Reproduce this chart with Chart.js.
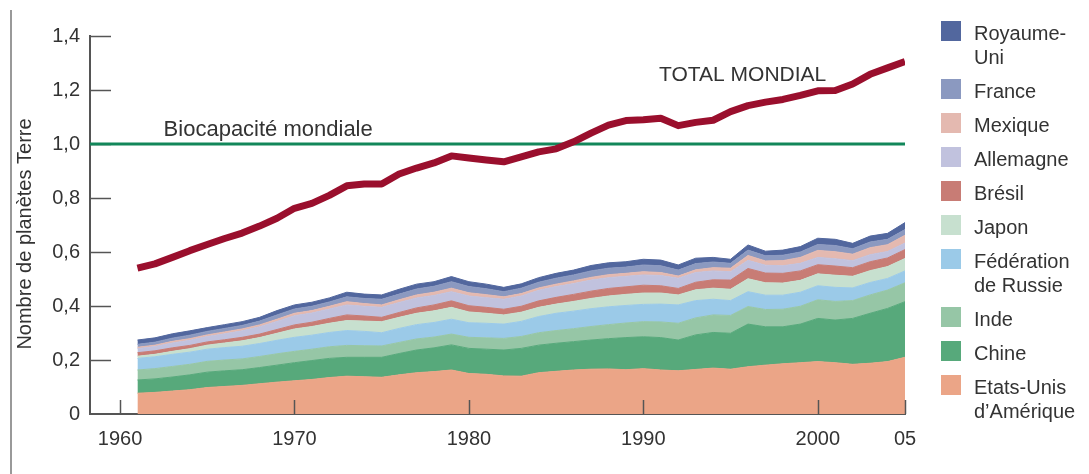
<!DOCTYPE html>
<html lang="fr">
<head>
<meta charset="utf-8">
<title>Empreinte écologique mondiale</title>
<script src="https://cdn.jsdelivr.net/npm/chart.js@4.4.1/dist/chart.umd.min.js"></script>
<style>
    html, body { margin: 0; padding: 0; background: #fff; }
    #wrap { position: relative; width: 1089px; height: 474px; font-family: "Liberation Sans", Arial, sans-serif; color: #333; }
    #chart { position: absolute; left: 0; top: 0; }
    #legend { position: absolute; left: 941px; top: 21px; }
    .item { display: flex; align-items: flex-start; margin-bottom: 10px; }
    .sw { width: 20px; height: 20px; margin-right: 13px; flex: none; }
    .lbl { font-size: 20px; line-height: 24px; white-space: pre-line; }
</style>
</head>
<body>
<div id="wrap">
    <canvas id="chart" width="1089" height="474"></canvas>
    <div id="legend"></div>
</div>
<script>
const annees = [1961, 1962, 1963, 1964, 1965, 1966, 1967, 1968, 1969, 1970,
    1971, 1972, 1973, 1974, 1975, 1976, 1977, 1978, 1979, 1980,
    1981, 1982, 1983, 1984, 1985, 1986, 1987, 1988, 1989, 1990,
    1991, 1992, 1993, 1994, 1995, 1996, 1997, 1998, 1999, 2000,
    2001, 2002, 2003, 2004, 2005];

const totalMondial = [0.540, 0.556, 0.580, 0.605, 0.628, 0.650, 0.670, 0.696, 0.725, 0.762,
    0.780, 0.810, 0.845, 0.852, 0.852, 0.889, 0.911, 0.930, 0.956, 0.948,
    0.941, 0.934, 0.952, 0.971, 0.982, 1.008, 1.040, 1.070, 1.087, 1.090,
    1.095, 1.068, 1.080, 1.088, 1.120, 1.142, 1.155, 1.165, 1.180, 1.197,
    1.198, 1.222, 1.258, 1.282, 1.305];

const biocapacite = 1.0;

// empreinte par pays, en nombre de planètes
const etatsUnis = [.077, .080, .085, .090, .098, .102, .106, .112, .118, .123,
    .128, .135, .140, .138, .136, .145, .153, .157, .163, .150,
    .147, .141, .140, .153, .158, .163, .166, .167, .164, .168,
    .163, .160, .165, .170, .166, .175, .181, .186, .190, .194,
    .190, .184, .188, .194, .210];
const chine = [.049, .050, .052, .055, .057, .058, .058, .060, .063, .067,
    .070, .071, .070, .072, .074, .079, .084, .088, .093, .093,
    .093, .096, .103, .102, .104, .105, .108, .112, .119, .118,
    .120, .114, .128, .132, .133, .158, .142, .137, .143, .160,
    .158, .170, .185, .197, .206];
const inde = [.037, .038, .039, .039, .040, .040, .040, .041, .042, .042,
    .042, .043, .044, .043, .042, .041, .041, .040, .040, .041,
    .042, .043, .044, .046, .047, .048, .050, .052, .054, .056,
    .058, .062, .063, .065, .066, .065, .064, .065, .066, .069,
    .069, .066, .068, .068, .070];
const russie = [.043, .044, .045, .045, .045, .046, .047, .048, .050, .052,
    .052, .053, .055, .053, .049, .052, .053, .054, .055, .054,
    .054, .053, .056, .060, .064, .065, .066, .066, .065, .064,
    .066, .068, .064, .058, .055, .055, .053, .052, .052, .052,
    .052, .047, .046, .043, .044];
const japon = [.008, .009, .011, .013, .015, .017, .020, .022, .026, .031,
    .032, .034, .037, .038, .041, .041, .042, .043, .044, .040,
    .037, .034, .034, .034, .034, .036, .038, .040, .041, .042,
    .041, .037, .040, .041, .042, .048, .046, .045, .044, .044,
    .045, .043, .044, .044, .046];
const bresil = [.013, .013, .013, .012, .012, .012, .013, .013, .014, .015,
    .016, .018, .021, .019, .016, .018, .020, .022, .024, .023,
    .022, .021, .022, .024, .025, .026, .027, .028, .028, .029,
    .027, .024, .028, .031, .034, .038, .036, .036, .035, .034,
    .034, .032, .033, .032, .033];
const allemagne = [.015, .016, .018, .019, .020, .022, .024, .027, .030, .034,
    .034, .035, .037, .036, .037, .037, .037, .035, .034, .036,
    .036, .037, .038, .039, .040, .040, .041, .040, .039, .038,
    .038, .038, .036, .033, .031, .030, .029, .028, .028, .027,
    .027, .026, .026, .024, .024];
const mexique = [.005, .005, .006, .006, .006, .007, .007, .007, .008, .009,
    .009, .010, .012, .010, .009, .010, .011, .012, .013, .012,
    .011, .009, .009, .009, .009, .010, .010, .011, .011, .012,
    .011, .008, .010, .012, .013, .018, .016, .019, .022, .026,
    .026, .024, .026, .025, .029];
const france = [.011, .011, .012, .013, .013, .013, .013, .014, .016, .016,
    .016, .016, .018, .019, .021, .021, .022, .022, .024, .023,
    .022, .019, .020, .021, .022, .022, .024, .024, .023, .025,
    .025, .022, .023, .021, .018, .020, .019, .020, .020, .022,
    .023, .020, .021, .020, .021];
const royaumeUni = [.016, .016, .016, .016, .014, .014, .014, .014, .016, .015,
    .015, .015, .017, .016, .016, .018, .018, .017, .019, .018,
    .017, .016, .016, .017, .018, .018, .020, .020, .020, .021,
    .021, .019, .020, .017, .015, .019, .017, .019, .020, .023,
    .023, .020, .022, .022, .026];

// du bas vers le haut de la pile
const pays = ["Etats-Unis\nd’Amérique", "Chine", "Inde", "Fédération\nde Russie", "Japon",
    "Brésil", "Allemagne", "Mexique", "France", "Royaume-\nUni"];
const valeursPays = [etatsUnis, chine, inde, russie, japon, bresil, allemagne, mexique, france, royaumeUni];
const couleurs = ["#eba587", "#57a97b", "#96c6a6", "#9bcae8", "#c7e0cf",
    "#c87c75", "#c1c2de", "#e4b9b0", "#8b99c0", "#52679e"];

const ticksX = [1960, 1970, 1980, 1990, 2000, 2005];
const titreY = "Nombre de planètes Terre";
const police = "'Liberation Sans', Arial, sans-serif";
Chart.defaults.font.family = police;
Chart.defaults.color = "#333";

const datasets = [{
    label: "TOTAL MONDIAL",
    data: totalMondial,
    stack: "total",
    borderColor: "#9a0f2d",
    borderWidth: 7,
    borderJoinStyle: "round",
    pointRadius: 0,
    fill: false,
    tension: 0
}];
pays.forEach((nom, i) => {
    datasets.push({
        label: nom,
        data: valeursPays[i],
        stack: "pays",
        backgroundColor: couleurs[i],
        borderColor: couleurs[i],
        borderWidth: 1,
        pointRadius: 0,
        fill: i === 0 ? "origin" : "-1",
        tension: 0
    });
});

const decor = {
    id: "decor",
    beforeDatasetsDraw(chart) {
        const { ctx, chartArea, scales: { x, y } } = chart;
        ctx.save();
        // petites graduations vers l'intérieur de l'axe Y
        ctx.strokeStyle = "#555";
        ctx.lineWidth = 1.5;
        y.ticks.forEach(t => {
            if (t.value === 0) return;
            const py = Math.round(y.getPixelForValue(t.value)) + 0.5;
            ctx.beginPath();
            ctx.moveTo(chartArea.left, py);
            ctx.lineTo(chartArea.left + 21, py);
            ctx.stroke();
        });
        // ligne de biocapacité
        const by = y.getPixelForValue(biocapacite);
        ctx.strokeStyle = "#12875a";
        ctx.lineWidth = 3;
        ctx.beginPath();
        ctx.moveTo(chartArea.left, by);
        ctx.lineTo(chartArea.right, by);
        ctx.stroke();
        ctx.font = "22px " + police;
        ctx.fillStyle = "#333";
        ctx.textBaseline = "alphabetic";
        ctx.fillText("Biocapacité mondiale", x.getPixelForValue(1962.5), by - 8);
        ctx.font = "21px " + police;
        ctx.fillText("TOTAL MONDIAL", x.getPixelForValue(1990.9), y.getPixelForValue(1.233));
        // titre de l'axe Y, un peu plus bas que le centre de l'axe
        ctx.save();
        ctx.translate(25, 234);
        ctx.rotate(-Math.PI / 2);
        ctx.font = "20px " + police;
        ctx.textAlign = "center";
        ctx.textBaseline = "middle";
        ctx.fillText(titreY, 0, 0);
        ctx.restore();
        // trait vertical à gauche
        ctx.strokeStyle = "#777";
        ctx.lineWidth = 1.5;
        ctx.beginPath();
        ctx.moveTo(11, 10);
        ctx.lineTo(11, 474);
        ctx.stroke();
        ctx.restore();
    },
    afterDatasetsDraw(chart) {
        const { ctx, chartArea, scales: { x } } = chart;
        ctx.save();
        ctx.strokeStyle = "#555";
        ctx.lineWidth = 1.5;
        ticksX.forEach(v => {
            const px = Math.round(x.getPixelForValue(v)) + 0.5;
            ctx.beginPath();
            ctx.moveTo(px, chartArea.bottom);
            ctx.lineTo(px, chartArea.bottom - 14);
            ctx.stroke();
        });
        ctx.restore();
    }
};

new Chart(document.getElementById("chart"), {
    type: "line",
    data: { labels: annees, datasets: datasets },
    options: {
        responsive: false,
        animation: false,
        layout: { padding: { top: 36, right: 184, left: 0, bottom: 0 } },
        plugins: {
            legend: { display: false },
            tooltip: { enabled: false }
        },
        scales: {
            x: {
                type: "linear",
                min: 1958.28,
                max: 2005,
                afterBuildTicks: s => { s.ticks = ticksX.map(v => ({ value: v })); },
                afterFit: s => { s.height = 60; },
                grid: { display: false, drawTicks: false },
                border: { color: "#555", width: 2 },
                ticks: {
                    padding: 13,
                    maxRotation: 0,
                    autoSkip: false,
                    font: { size: 20 },
                    callback: v => v === 2005 ? "05" : String(v)
                }
            },
            y: {
                stacked: true,
                min: 0,
                max: 1.4,
                afterFit: s => { s.width = 90; },
                grid: { display: false, drawTicks: false },
                border: { color: "#555", width: 2 },
                ticks: {
                    stepSize: 0.2,
                    padding: 10,
                    font: { size: 20 },
                    callback: v => v === 0 ? "0" : v.toFixed(1).replace(".", ",")
                }
            }
        }
    },
    plugins: [decor]
});

// légende, du haut vers le bas
const legende = document.getElementById("legend");
for (let i = pays.length - 1; i >= 0; i--) {
    const item = document.createElement("div");
    item.className = "item";
    item.innerHTML = `<div class="sw" style="background:${couleurs[i]}"></div><div class="lbl"></div>`;
    item.querySelector(".lbl").textContent = pays[i];
    legende.appendChild(item);
}
</script>
</body>
</html>
